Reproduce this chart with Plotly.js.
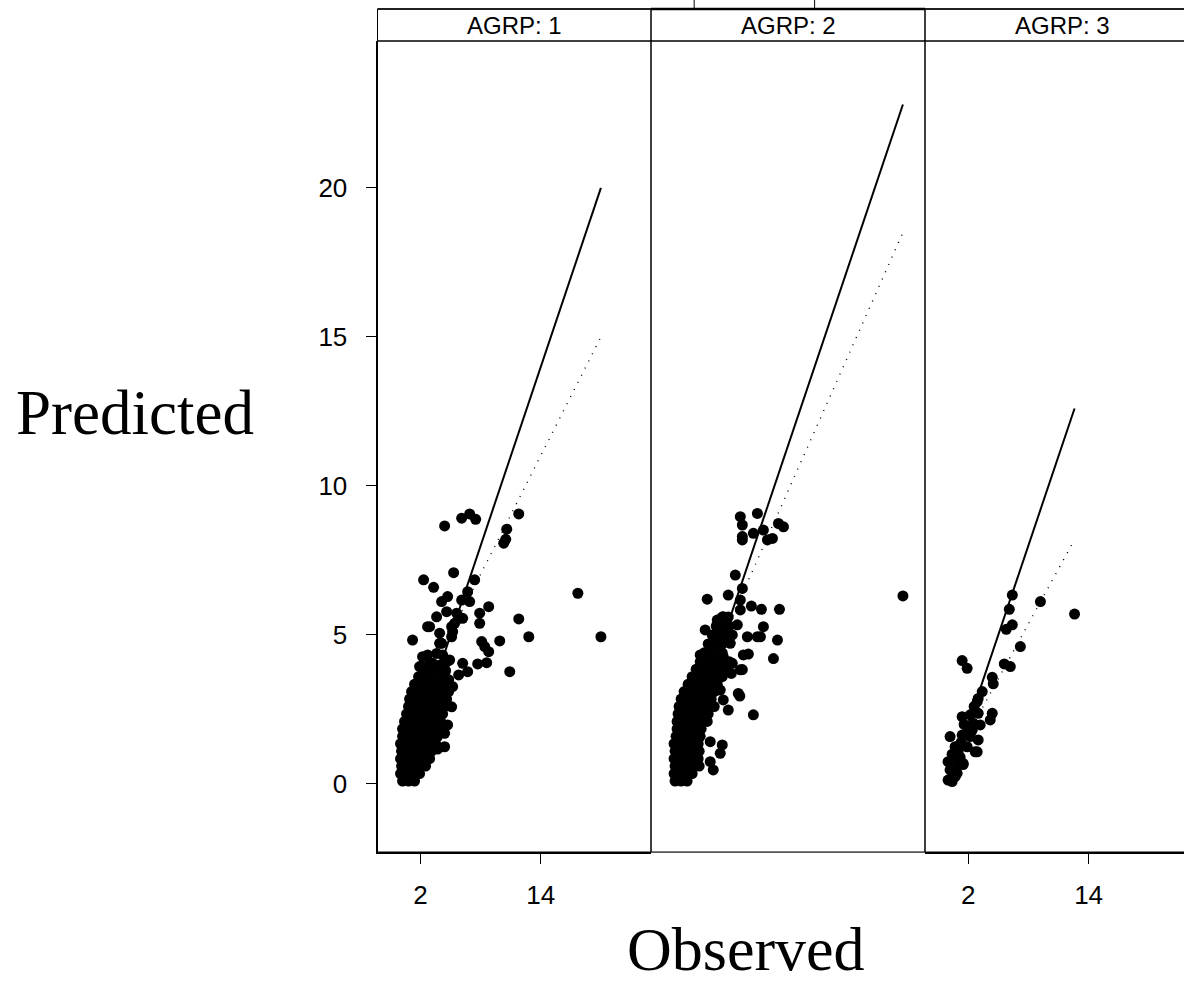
<!DOCTYPE html>
<html><head><meta charset="utf-8">
<script src="https://cdn.plot.ly/plotly-3.0.1.min.js"></script>
<style>html,body{margin:0;padding:0;overflow:hidden;background:#fff}#chart{width:1200px;height:984px}</style>
</head><body><div id="chart"></div>
<script>
// ---------------- DATA ----------------
const panelLabels = ["AGRP: 1", "AGRP: 2", "AGRP: 3"];
const xTickVals = [2, 14];
const xTickText = ["2", "14"];
const yTickVals = [0, 5, 10, 15, 20];
const yTickText = ["0", "5", "10", "15", "20"];
const xTitle = "Observed";
const yTitle = "Predicted";

// Panel 1 (AGRP: 1) observed / predicted
const obs1 = [
  0.2,0.8,1.4,
  0.0,0.6,1.2,1.9,
  0.1,0.7,1.3,1.9,2.5,
  0.0,0.6,1.2,1.8,2.4,2.9,
  0.1,0.7,1.3,1.9,2.5,3.1,
  0.0,0.6,1.2,1.8,2.4,3.0,3.5,
  0.2,0.8,1.4,2.0,2.6,3.2,3.7,
  0.2,0.8,1.4,2.0,2.6,3.2,3.8,
  0.4,1.0,1.6,2.2,2.8,3.4,4.0,
  0.6,1.2,1.8,2.4,3.0,3.6,4.2,
  0.8,1.4,2.0,2.6,3.2,3.8,4.4,
  0.9,1.5,2.1,2.7,3.3,3.9,4.6,
  1.1,1.7,2.3,2.9,3.5,4.1,4.8,
  1.4,2.0,2.6,3.2,3.8,4.4,
  1.8,2.4,3.0,3.6,4.3,
  2.2,2.8,3.4,4.3,
  4.4,6.1,6.9,7.5,11.8,10.6,10.5,10.3,5.3,2.3,
  3.3,7.4,6.7,4.7,4.1,6.1,6.9,8.8,7.9,7.9,
  11.8,17.7,20.0,12.8,9.9,1.2,8.1,8.4,8.8,10.9,
  7.7,8.6,6.2,6.7,5.8,2.7,3.6,4.6,5.6,6.2,
  5.1,3.9,3.9,2.7,4.2,2.1,3.2,4.9,5.2,5.4,
  5.2,5.1,4.7,4.4,4.4,3.7,5.1,2.9,3.6,4.6,
  2.9,1.9,2.2,4.1,5.8,4.0,4.5,4.8
];
const pred1 = [
  0.1,0.1,0.1,
  0.35,0.35,0.35,0.35,
  0.6,0.6,0.6,0.6,0.6,
  0.85,0.85,0.85,0.85,0.85,0.85,
  1.1,1.1,1.1,1.1,1.1,1.1,
  1.35,1.35,1.35,1.35,1.35,1.35,1.35,
  1.6,1.6,1.6,1.6,1.6,1.6,1.6,
  1.85,1.85,1.85,1.85,1.85,1.85,1.85,
  2.1,2.1,2.1,2.1,2.1,2.1,2.1,
  2.35,2.35,2.35,2.35,2.35,2.35,2.35,
  2.6,2.6,2.6,2.6,2.6,2.6,2.6,
  2.85,2.85,2.85,2.85,2.85,2.85,2.85,
  3.1,3.1,3.1,3.1,3.1,3.1,3.1,
  3.35,3.35,3.35,3.35,3.35,3.35,
  3.6,3.6,3.6,3.6,3.6,
  3.85,3.85,3.85,3.85,
  8.66,8.92,9.06,8.88,9.06,8.55,8.21,8.08,7.09,6.85,
  6.6,6.85,6.45,6.29,6.12,6.17,6.12,5.95,5.73,5.39,
  5.54,6.4,4.94,4.94,4.8,4.83,4.78,4.61,4.44,3.77,
  4.03,4.07,4.05,3.77,3.66,5.28,5.61,5.78,5.73,5.56,
  4.94,5.06,4.72,4.33,4.33,3.94,4.05,4.16,5.11,5.39,
  3.27,2.59,1.98,1.7,1.25,1.17,5.28,5.28,4.38,4.1,
  4.05,3.94,4.27,4.72,5.56,4.0,3.8,3.5
];

// Panel 2 (AGRP: 2)
const obs2 = [
  0.1,0.7,1.3,
  0.0,0.6,1.2,1.8,
  0.1,0.7,1.3,1.9,2.5,
  0.0,0.6,1.2,1.8,2.4,
  0.1,0.7,1.3,1.9,2.5,
  0.0,0.6,1.2,1.8,2.4,
  0.2,0.8,1.4,2.0,2.6,
  0.3,0.9,1.5,2.1,2.7,
  0.3,0.9,1.5,2.1,2.7,3.3,
  0.4,1.0,1.6,2.2,2.8,3.4,
  0.5,1.1,1.7,2.3,2.9,3.5,4.0,
  0.7,1.3,1.9,2.5,3.1,3.7,
  1.0,1.6,2.2,2.8,3.4,4.0,
  1.4,2.0,2.6,3.2,3.8,4.3,
  1.8,2.4,3.0,3.6,4.2,4.8,
  2.2,2.8,3.4,4.0,4.6,5.2,
  2.6,3.2,3.8,4.4,5.0,5.5,
  3.0,3.6,4.2,4.8,
  3.4,4.1,4.8,
  3.8,4.5,5.1,5.8,
  4.2,4.8,5.5,
  4.8,5.4,
  6.6,8.3,6.8,6.8,6.8,7.9,8.9,9.3,10.4,10.9,
  9.8,6.1,3.3,5.4,6.8,6.6,7.7,8.7,10.5,6.6,
  4.9,4.3,3.1,6.3,8.9,7.3,8.6,10.3,5.6,3.9,
  4.6,6.9,7.4,9.9,2.6,4.9,5.8,6.8,5.7,2.9,
  3.6,1.8,6.4,7.9,5.4,4.9,4.6,3.8,22.8,3.6,
  3.9,4.8,4.6,3.6,6.6,8.3,6.55
];
const pred2 = [
  0.1,0.1,0.1,
  0.35,0.35,0.35,0.35,
  0.6,0.6,0.6,0.6,0.6,
  0.85,0.85,0.85,0.85,0.85,
  1.1,1.1,1.1,1.1,1.1,
  1.35,1.35,1.35,1.35,1.35,
  1.6,1.6,1.6,1.6,1.6,
  1.85,1.85,1.85,1.85,1.85,
  2.1,2.1,2.1,2.1,2.1,2.1,
  2.35,2.35,2.35,2.35,2.35,2.35,
  2.6,2.6,2.6,2.6,2.6,2.6,2.6,
  2.85,2.85,2.85,2.85,2.85,2.85,
  3.1,3.1,3.1,3.1,3.1,3.1,
  3.35,3.35,3.35,3.35,3.35,3.35,
  3.6,3.6,3.6,3.6,3.6,3.6,
  3.85,3.85,3.85,3.85,3.85,3.85,
  4.1,4.1,4.1,4.1,4.1,4.1,
  4.4,4.4,4.4,4.4,
  4.7,4.7,4.7,
  5.0,5.0,5.0,5.0,
  5.3,5.3,5.3,
  5.6,5.6,
  8.97,9.08,8.69,8.3,8.19,8.41,8.52,8.19,8.74,8.63,
  8.24,7.01,6.2,6.34,6.56,6.17,5.97,5.86,5.86,5.84,
  5.61,5.5,5.17,5.34,5.28,4.94,4.94,4.83,4.72,4.83,
  5.06,4.33,4.36,4.21,4.33,4.27,4.05,3.84,3.71,3.94,
  3.71,3.43,3.04,2.32,2.48,2.82,3.15,3.43,6.31,0.75,
  0.47,1.31,1.03,1.42,3.83,4.94,2.95
];

// Panel 3 (AGRP: 3)
const obs3 = [
  6.4,6.1,6.4,5.8,9.2,12.6,7.2,5.6,6.2,1.4,
  1.9,4.4,4.5,3.4,3.0,2.9,4.4,4.2,1.4,2.2,
  3.0,2.5,3.2,3.0,2.2,1.4,0.2,0.9,1.9,2.9,
  1.5,0.5,0.0,0.2,0.9,0.0,0.4,1.9,1.0,2.7,
  0.7,1.5,0.2,0.7,0.4,0.9,1.3,2.4,1.6,2.6,
  0.6,1.2
];
const pred3 = [
  6.34,5.86,5.34,5.19,6.12,5.7,4.61,4.03,3.94,4.14,
  3.88,3.58,3.36,3.1,2.87,2.76,2.37,2.15,2.26,2.32,
  2.37,2.04,1.98,1.48,1.59,1.64,1.59,1.25,1.25,1.08,
  0.69,0.92,0.75,0.47,0.36,0.13,0.08,1.92,1.08,1.08,
  1.25,0.65,0.13,0.25,1.0,0.6,1.4,1.8,2.0,2.6,
  0.5,0.9
];

// Reference lines (end points): identity line and fitted (dotted) line
const ident1 = [0, 20.0];
const ident2 = [0, 22.8];
const ident3 = [0, 12.6];
const fitX1 = [0, 20.0], fitY1 = [1.73, 15.0];
const fitX2 = [0, 22.8], fitY2 = [1.23, 18.5];
const fitX3 = [0, 12.6], fitY3 = [0.45, 8.2];

// ---------------- LAYOUT ----------------
const W = 1200, H = 984;
const fx = p => p / W;
const fy = p => 1 - p / H;
const panels = [[377.5, 651], [651, 925], [925, 1199]];
const topY = 9, stripBottom = 41, bottomY = 852;
const xRange = [-2.3, 25];
const yRange = [-2.282, 24.93];
const sans = "Liberation Sans, Arial, sans-serif";
const serif = "Liberation Serif, Times New Roman, serif";

const axX = (i, showTicks, lw, lc) => ({
  domain: [fx(panels[i][0]), fx(panels[i][1])],
  range: xRange, anchor: 'y',
  tickvals: xTickVals, ticktext: xTickText,
  ticks: showTicks ? 'outside' : '', ticklen: 10, tickwidth: 1, tickcolor: '#000',
  showticklabels: showTicks, ticklabelstandoff: 9,
  tickfont: {family: sans, size: 26, color: '#000'},
  showline: true, linewidth: lw, linecolor: lc,
  showgrid: false, zeroline: false, fixedrange: true
});

const marker = {color: '#000', size: 11, line: {width: 0}};
const traces = [];
const sets = [
  [obs1, pred1, ident1, fitX1, fitY1, 'x'],
  [obs2, pred2, ident2, fitX2, fitY2, 'x2'],
  [obs3, pred3, ident3, fitX3, fitY3, 'x3']
];
sets.forEach(([ox, py, id, fxv, fyv, xa]) => {
  traces.push({x: id, y: id, xaxis: xa, yaxis: 'y', mode: 'lines', type: 'scatter',
    line: {color: '#000', width: 2}, hoverinfo: 'skip', showlegend: false});
  traces.push({x: fxv, y: fyv, xaxis: xa, yaxis: 'y', mode: 'lines', type: 'scatter',
    line: {color: '#000', width: 1.4, dash: '1px,7px'}, hoverinfo: 'skip', showlegend: false});
  traces.push({x: ox, y: py, xaxis: xa, yaxis: 'y', mode: 'markers', type: 'scatter',
    marker: marker, showlegend: false, cliponaxis: false});
});

const shapes = [];
panels.forEach(([l, r], i) => {
  shapes.push({type: 'rect', xref: 'paper', yref: 'paper', x0: fx(l), x1: fx(r), y0: fy(bottomY), y1: fy(topY),
    line: {color: '#000', width: 1}, layer: 'below'});
  shapes.push({type: 'line', xref: 'paper', yref: 'paper', x0: fx(l), x1: fx(r), y0: fy(stripBottom), y1: fy(stripBottom),
    line: {color: '#000', width: 1.5}});
  shapes.push({type: 'line', xref: 'paper', yref: 'paper', x0: fx(l), x1: fx(r), y0: fy(topY), y1: fy(topY),
    line: {color: '#000', width: 1.5}});
});
// top axis of panel 2 (alternating trellis axis)
shapes.push({type: 'line', xref: 'paper', yref: 'paper', x0: fx(651), x1: fx(925), y0: fy(topY), y1: fy(topY),
  line: {color: '#000', width: 2.5}});
xTickVals.forEach(v => {
  shapes.push({type: 'line', xref: 'x2', yref: 'paper', x0: v, x1: v, y0: fy(topY), y1: fy(topY - 10),
    line: {color: '#000', width: 1}});
});

const annotations = panelLabels.map((t, i) => ({
  text: t, xref: 'paper', yref: 'paper', x: fx((panels[i][0] + panels[i][1]) / 2), y: fy(26),
  xanchor: 'center', yanchor: 'middle', showarrow: false,
  font: {family: sans, size: 24, color: '#000'}
}));
annotations.push({text: yTitle, xref: 'paper', yref: 'paper', x: fx(135), y: fy(413),
  xanchor: 'center', yanchor: 'middle', showarrow: false, font: {family: serif, size: 63, color: '#000'}});
annotations.push({text: xTitle, xref: 'paper', yref: 'paper', x: fx(746), y: fy(949),
  xanchor: 'center', yanchor: 'middle', showarrow: false, font: {family: serif, size: 62, color: '#000'}});

const layout = {
  width: W, height: H,
  margin: {l: 0, r: 0, t: 0, b: 0},
  paper_bgcolor: '#fff', plot_bgcolor: 'rgba(0,0,0,0)',
  showlegend: false,
  xaxis: axX(0, true, 2, '#000'),
  xaxis2: axX(1, false, 1, '#555'),
  xaxis3: axX(2, true, 2, '#000'),
  yaxis: {
    domain: [fy(bottomY), fy(stripBottom)], range: yRange, anchor: 'x',
    tickvals: yTickVals, ticktext: yTickText,
    ticks: 'outside', ticklen: 10, tickwidth: 1, tickcolor: '#000', ticklabelstandoff: 13,
    tickfont: {family: sans, size: 26, color: '#000'},
    showline: true, linewidth: 2, linecolor: '#000',
    showgrid: false, zeroline: false, fixedrange: true
  },
  shapes: shapes,
  annotations: annotations
};

Plotly.newPlot('chart', traces, layout, {staticPlot: true, displayModeBar: false});
</script></body></html>
